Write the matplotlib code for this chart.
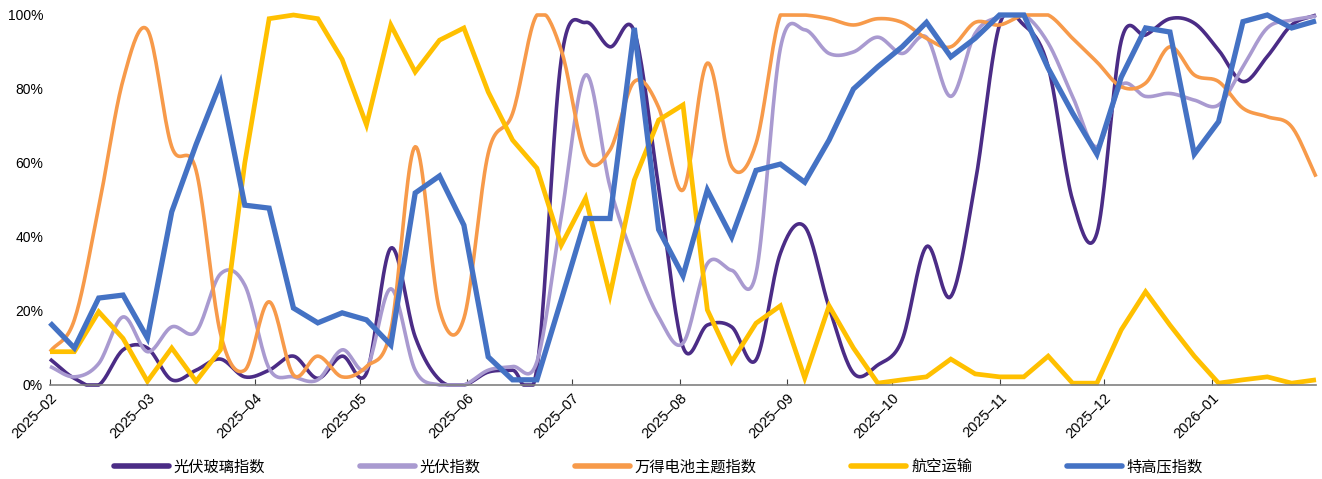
import numpy as np
import pandas as pd
import matplotlib
matplotlib.use("Agg")
import matplotlib.pyplot as plt
import matplotlib.dates as mdates
from matplotlib.ticker import FuncFormatter

dates = pd.date_range("2025-02-01", periods=53, freq="7D")

names = ["光伏玻璃指数", "光伏指数", "万得电池主题指数", "航空运输", "特高压指数"]
colors = ["#4B2C86", "#A99AD0", "#F79A4A", "#FFC000", "#4472C4"]

pv_glass = [7, 1.8, 0, 9.5, 10, 1.4, 4, 7, 2.2, 4, 7.8, 1.8, 7.8, 3.2, 37, 13, 1.4, 0,
            3.5, 4, 4.5, 88, 98, 91.4, 95.5, 53.5, 10.3, 16.2, 15.7, 6.8, 35.6, 42.8,
            21, 3.2, 5.4, 12.2, 37.4, 23.9, 54.5, 97.3, 97.3, 86, 50, 41, 93, 94.6,
            99, 97.8, 90.5, 82, 88.8, 97.3, 100]
pv = [5, 2.2, 5.8, 18.4, 9, 15.7, 14.4, 30, 27, 4.5, 2.2, 1.4, 9.5, 4.5, 26, 4, 0, 0,
      4, 5, 6.3, 45.5, 83.8, 53.6, 33.8, 18.4, 11.3, 32.8, 31, 30.2, 91, 96, 89.6,
      90, 94, 89.6, 94, 78, 95, 99.5, 100, 92.4, 78, 64.4, 81, 78, 78.8, 77, 75.7, 86,
      96.5, 98.6, 99.7]
battery = [9, 17.6, 48, 82.4, 96, 64.4, 58, 14, 4, 22.5, 2.7, 7.8, 2.2, 5, 14.9, 64.4,
           20.3, 18, 62.6, 73.4, 100, 90.5, 61.6, 63.5, 82, 75, 52.7, 87, 59, 65.3, 100,
           100, 99, 97.3, 99, 98, 93.7, 91.4, 98, 97.3, 100, 100, 93.7, 87.3, 80.6, 81.6,
           91.4, 83.8, 82, 74.8, 72.5, 69.8, 56.3]
airline = [9, 9, 19.8, 12.6, 1, 10, 1, 9.5, 60, 99, 100, 99, 88, 70.3, 97.3, 84.6, 93.2,
           96.5, 79.2, 66.2, 58.6, 37.8, 50.5, 24.3, 55.4, 71.6, 75.7, 20.3, 6.3, 16.7,
           21.4, 1.9, 21.4, 10, 0.5, 1.4, 2.2, 7, 3, 2.2, 2.2, 7.8, 0.5, 0.5, 14.9, 25.2,
           16.2, 7.8, 0.5, 1.4, 2.2, 0.5, 1.4]
uhv = [16.8, 10, 23.5, 24.3, 12.7, 46.8, 65, 81.6, 48.6, 47.8, 20.8, 16.8, 19.5, 17.6,
       10.8, 51.9, 56.5, 43.2, 7.6, 1.4, 1.4, 23, 45, 45, 96.5, 42, 29.5, 52.7, 40, 58,
       59.7, 54.8, 66.2, 80, 86, 91.4, 98, 88.7, 93.7, 100, 100, 85.6, 73.5, 62.4, 83.2,
       96.5, 95.4, 62.4, 71.2, 98.2, 100, 96.5, 98.4]


def smooth(x, y, n=20):
    # catmull-rom through the weekly points
    x = np.asarray(x, float)
    y = np.asarray(y, float)
    px = np.concatenate([[2 * x[0] - x[1]], x, [2 * x[-1] - x[-2]]])
    py = np.concatenate([[2 * y[0] - y[1]], y, [2 * y[-1] - y[-2]]])
    t = np.linspace(0, 1, n, endpoint=False)
    xs, ys = [], []
    for i in range(1, len(px) - 2):
        for p, out in ((px, xs), (py, ys)):
            p0, p1, p2, p3 = p[i - 1], p[i], p[i + 1], p[i + 2]
            out.append(0.5 * (2 * p1 + (-p0 + p2) * t + (2 * p0 - 5 * p1 + 4 * p2 - p3) * t ** 2
                              + (-p0 + 3 * p1 - 3 * p2 + p3) * t ** 3))
    xs.append([x[-1]])
    ys.append([y[-1]])
    return np.concatenate(xs), np.clip(np.concatenate(ys), 0, 100)


xn = mdates.date2num(dates)

fig = plt.figure(figsize=(13.22, 4.79), dpi=100)
ax = fig.add_axes([50 / 1322, 1 - 385 / 479, 1266 / 1322, 370 / 479])

series = [pv_glass, pv, battery, airline, uhv]
smoothed = [True, True, True, False, False]
widths = [2.6, 2.6, 2.6, 3.4, 3.8]
for name, vals, col, sm, lw in zip(names, series, colors, smoothed, widths):
    if sm:
        sx, sy = smooth(xn, vals)
    else:
        sx, sy = xn, np.asarray(vals, float)
    ax.plot(sx, sy, color=col, lw=lw, label=name, clip_on=False,
            solid_capstyle="butt", solid_joinstyle="miter" if not sm else "round")

ax.set_xlim(xn[0], xn[-1])
ax.set_ylim(0, 100)
ax.set_yticks(np.arange(0, 101, 20))
ax.yaxis.set_major_formatter(FuncFormatter(lambda v, p: f"{v:.0f}%"))
ax.xaxis.set_major_locator(mdates.MonthLocator())
ax.xaxis.set_major_formatter(mdates.DateFormatter("%Y\u2013%m"))

for s in ["top", "right", "left"]:
    ax.spines[s].set_visible(False)
ax.spines["bottom"].set_color("#808080")
ax.spines["bottom"].set_linewidth(1.2)
ax.tick_params(axis="y", length=0, pad=5, labelsize=10)
ax.tick_params(axis="x", direction="in", length=4, color="#404040", labelsize=10.5, pad=4)
for lab in ax.get_yticklabels() + ax.get_xticklabels():
    lab.set_fontfamily("Liberation Sans")
plt.setp(ax.get_xticklabels(), rotation=45, ha="right", rotation_mode="anchor")

leg = fig.legend(loc="center", bbox_to_anchor=(0.498, 0.025), ncol=5, frameon=False,
                 prop={"family": ["Noto Sans CJK SC", "DejaVu Sans"], "size": 11},
                 handlelength=3.6, handletextpad=0.3, columnspacing=6.2)
for line in leg.get_lines():
    line.set_linewidth(4)
    line.set_solid_capstyle("round")

fig.savefig("out.png", dpi=100)
